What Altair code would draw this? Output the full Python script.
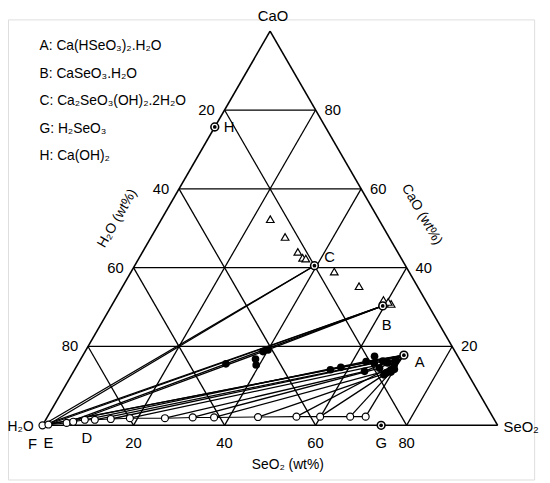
import altair as alt
import numpy as np
import pandas as pd

SQ = np.sqrt(3) / 2.0

# ---------------- data (wt%) ----------------
# liquid phase compositions (open circles)
liq_name = ["F", "E", "L3", "L4", "D", "L6", "L7", "L8", "L9", "L10", "L11", "L12", "L13", "L14", "L15", "L16"]
liq_seo2 = [0.0, 1.2, 5.0, 6.3, 8.6, 10.8, 14.2, 18.3, 26.0, 32.0, 36.7, 46.3, 54.7, 59.9, 66.5, 69.9]
liq_cao = [0.0, 0.2, 0.6, 0.9, 1.4, 1.4, 1.6, 1.8, 1.8, 2.0, 2.0, 2.1, 2.2, 2.2, 2.2, 2.2]

# wet residues (filled circles)
res_seo2 = [32.5, 39.1, 39.3, 38.4, 56.2, 58.2, 63.0, 66.6, 65.0, 67.9, 63.9, 66.8, 69.5, 68.9, 69.6, 68.6, 69.8, 70.2, 69.3, 40.0, 64.2]
res_cao = [15.6, 18.7, 15.3, 16.8, 14.1, 14.7, 16.2, 16.3, 15.8, 15.8, 13.7, 14.5, 14.1, 13.3, 15.3, 12.8, 13.5, 14.2, 16.6, 19.1, 17.5]

# solid phases
phase_name = ["A", "B", "C", "G", "H"]
phase_seo2 = [70.5, 59.6, 39.5, 74.4, 0.0]
phase_cao = [17.8, 30.3, 40.5, 0.0, 75.7]

# open triangles
tri_seo2 = [23.9, 29.4, 34.1, 35.9, 36.7, 44.6, 51.9, 59.0, 61.2, 60.3]
tri_cao = [52.3, 47.8, 44.0, 42.5, 42.3, 39.0, 35.3, 31.8, 30.8, 31.3]

# tie lines: liquid -> (wet residue) -> solid
tie_liq = ["F", "E", "F", "E", "L3", "L4", "F", "E", "D", "L6", "L7", "L8",
           "L9", "L10", "L11", "L12", "L13", "L14", "L15", "L16"]
tie_res = [-1, -1, -1, -1, 0, 1, 4, 5, 6, 7, 8, 9, 10, 11, 12, 13, 14, 15, 16, 17]
tie_sol = ["C", "C", "B", "B", "B", "B"] + ["A"] * 14

ticks = [20, 40, 60, 80]

legend_lines = ["A: Ca(HSeO\u2083)\u2082.H\u2082O", "B: CaSeO\u2083.H\u2082O",
                "C: Ca\u2082SeO\u2083(OH)\u2082.2H\u2082O", "G: H\u2082SeO\u2083", "H: Ca(OH)\u2082"]


def tx(s, c):
    return s + c / 2.0


def ty(s, c):
    return c * SQ


FONT = "Liberation Sans"
PX = 4.62          # pixels per wt% (layout)
PY = 4.619
OX, OY = 8, 16     # page position of plot-area origin
W, H = 534, 467
xmin = -(43 - OX) / PX
ymax = (428 - OY) / PY
xs = alt.Scale(domain=[xmin, xmin + W / PX], nice=False, zero=False)
ys = alt.Scale(domain=[ymax - H / PY, ymax], nice=False, zero=False)


def seg_df(segs):
    return pd.DataFrame({
        "x": [tx(a[0], a[1]) for a, b in segs],
        "y": [ty(a[0], a[1]) for a, b in segs],
        "x2": [tx(b[0], b[1]) for a, b in segs],
        "y2": [ty(b[0], b[1]) for a, b in segs],
    })


def rules(df, width):
    return alt.Chart(df).mark_rule(color="black", strokeWidth=width).encode(
        x=alt.X("x:Q", scale=xs, axis=None),
        y=alt.Y("y:Q", scale=ys, axis=None),
        x2="x2:Q", y2="y2:Q")


# frame & grid
outline = [((0, 0), (100, 0)), ((100, 0), (0, 100)), ((0, 100), (0, 0))]
grid = []
for k in ticks:
    grid.append(((0, k), (100 - k, k)))          # CaO = k
    grid.append(((k, 0), (k, 100 - k)))          # SeO2 = k
    grid.append(((100 - k, 0), (0, 100 - k)))    # H2O = k

# tie line segments
liq = {n: (s, c) for n, s, c in zip(liq_name, liq_seo2, liq_cao)}
sol = {n: (s, c) for n, s, c in zip(phase_name, phase_seo2, phase_cao)}
ties = []
for ln, ri, sn in zip(tie_liq, tie_res, tie_sol):
    p0 = liq[ln]
    p2 = sol[sn]
    if ri >= 0:
        p1 = (res_seo2[ri], res_cao[ri])
        ties.append((p0, p1))
        ties.append((p1, p2))
    else:
        ties.append((p0, p2))

layers = [rules(seg_df(grid), 1.3), rules(seg_df(outline), 1.6), rules(seg_df(ties), 1.3)]

liq_df = pd.DataFrame({"x": [tx(s, c) for s, c in zip(liq_seo2, liq_cao)],
                       "y": [ty(s, c) for s, c in zip(liq_seo2, liq_cao)],
                       "o": list(range(len(liq_seo2)))})
layers.append(alt.Chart(liq_df).mark_line(color="black", strokeWidth=1.1).encode(
    x=alt.X("x:Q", scale=xs, axis=None), y=alt.Y("y:Q", scale=ys, axis=None), order="o:Q"))

tri_df = pd.DataFrame({"x": [tx(s, c) for s, c in zip(tri_seo2, tri_cao)],
                       "y": [ty(s, c) for s, c in zip(tri_seo2, tri_cao)]})
layers.append(alt.Chart(tri_df).mark_point(shape="triangle-up", filled=True, fill="white",
                                            stroke="black", strokeWidth=1.2, size=60, opacity=1).encode(
    x=alt.X("x:Q", scale=xs, axis=None), y=alt.Y("y:Q", scale=ys, axis=None)))

layers.append(alt.Chart(liq_df).mark_point(shape="circle", filled=True, fill="white",
                                            stroke="black", strokeWidth=1.2, size=50, opacity=1).encode(
    x=alt.X("x:Q", scale=xs, axis=None), y=alt.Y("y:Q", scale=ys, axis=None)))

res_df = pd.DataFrame({"x": [tx(s, c) for s, c in zip(res_seo2, res_cao)],
                       "y": [ty(s, c) for s, c in zip(res_seo2, res_cao)]})
layers.append(alt.Chart(res_df).mark_point(shape="circle", filled=True, color="black",
                                            size=60, opacity=1).encode(
    x=alt.X("x:Q", scale=xs, axis=None), y=alt.Y("y:Q", scale=ys, axis=None)))

ph_df = pd.DataFrame({"x": [tx(s, c) for s, c in zip(phase_seo2, phase_cao)],
                      "y": [ty(s, c) for s, c in zip(phase_seo2, phase_cao)],
                      "n": phase_name})
layers.append(alt.Chart(ph_df).mark_point(shape="circle", filled=True, fill="white",
                                           stroke="black", strokeWidth=1.6, size=62, opacity=1).encode(
    x=alt.X("x:Q", scale=xs, axis=None), y=alt.Y("y:Q", scale=ys, axis=None)))
layers.append(alt.Chart(ph_df).mark_point(shape="circle", filled=True, color="black",
                                           size=14, opacity=1).encode(
    x=alt.X("x:Q", scale=xs, axis=None), y=alt.Y("y:Q", scale=ys, axis=None)))


def dtext(df, dx=0, dy=0, align="center", size=14):
    return alt.Chart(df).mark_text(dx=dx, dy=dy, align=align, baseline="middle",
                                   font=FONT, fontSize=size, color="black").encode(
        x=alt.X("x:Q", scale=xs, axis=None), y=alt.Y("y:Q", scale=ys, axis=None), text="t:N")


def one(s, c, t):
    return pd.DataFrame({"x": [tx(s, c)], "y": [ty(s, c)], "t": [t]})


# tick labels
bot = pd.DataFrame({"x": [tx(k, 0) for k in ticks], "y": [0.0] * 4, "t": [str(k) for k in ticks]})
left = pd.DataFrame({"x": [tx(0, 100 - k) for k in ticks], "y": [ty(0, 100 - k) for k in ticks],
                     "t": [str(k) for k in ticks]})
right = pd.DataFrame({"x": [tx(100 - k, k) for k in ticks], "y": [ty(100 - k, k) for k in ticks],
                      "t": [str(k) for k in ticks]})
layers += [dtext(bot, dy=18, size=15), dtext(left, dx=-10, align="right", size=15),
           dtext(right, dx=9, align="left", size=15)]

# point labels
pa = dict(zip(phase_name, zip(phase_seo2, phase_cao)))
layers += [
    dtext(one(*pa["A"], "A"), dx=11, dy=7, align="left", size=15),
    dtext(one(*pa["B"], "B"), dx=4, dy=19, size=15),
    dtext(one(*pa["C"], "C"), dx=10, dy=-9, align="left", size=15),
    dtext(one(*pa["H"], "H"), dx=9, dy=0, align="left", size=15),
    dtext(one(*pa["G"], "G"), dx=0, dy=18, size=15),
    dtext(one(liq_seo2[0], liq_cao[0], "F"), dx=-10, dy=19, size=15),
    dtext(one(liq_seo2[1], liq_cao[1], "E"), dx=0, dy=19, size=15),
    dtext(one(liq_seo2[4], liq_cao[4], "D"), dx=2, dy=19, size=15),
]


def ptext(px, py, t, align="center", size=14, angle=0):
    df = pd.DataFrame({"t": [t]})
    return alt.Chart(df).mark_text(align=align, baseline="middle", font=FONT, fontSize=size,
                                   color="black", angle=angle).encode(
        x=alt.value(px - OX), y=alt.value(py - OY), text="t:N")


for i, t in enumerate(legend_lines):
    layers.append(ptext(40, 43 + 28 * i, t, align="left", size=14))

layers += [
    ptext(277, 13, "CaO", size=15),
    ptext(34, 430, "H\u2082O", align="right", size=14),
    ptext(511, 430, "SeO\u2082", align="left", size=15),
    ptext(292, 468, "SeO\u2082 (wt%)", size=14),
    ptext(119, 218, "H\u2082O (wt%)", size=14, angle=300),
    ptext(428, 214, "CaO (wt%)", size=14, angle=60),
]

chart = alt.layer(*layers).properties(
    width=W, height=H,
    autosize=alt.AutoSizeParams(type="none"),
    padding={"left": 0, "top": OY - 8, "right": 8, "bottom": 0},
).configure_view(stroke=None).configure(background="white")

chart.save("out.html", embed_options={"renderer": "svg", "actions": False})
